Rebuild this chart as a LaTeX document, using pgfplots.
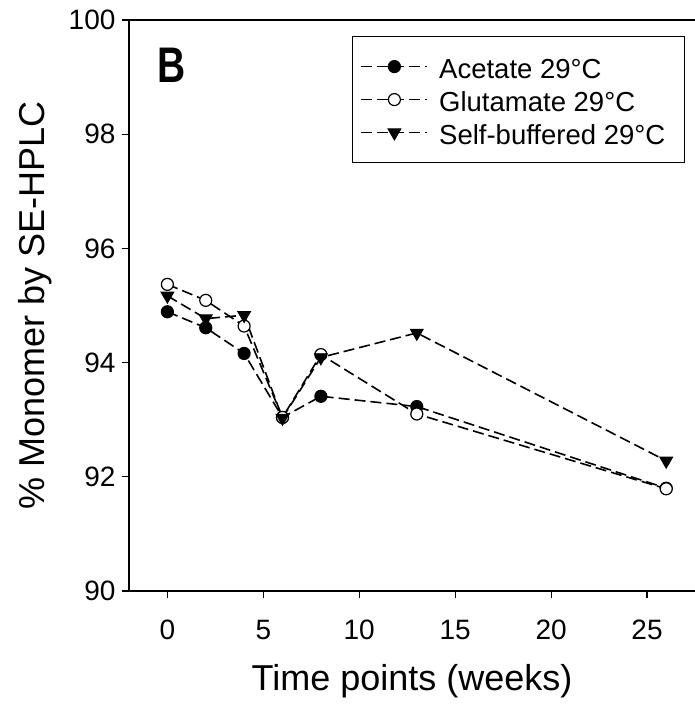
\documentclass[border=0pt]{standalone}
\usepackage{fontspec}
\setmainfont{Liberation Sans}
\usepackage{pgfplots}
\pgfplotsset{compat=1.18}
\begin{document}
\begin{tikzpicture}
\begin{axis}[
  scale only axis,
  width=566pt, height=571pt,
  xmin=-2, xmax=27.5, ymin=90, ymax=100,
  xtick={0,5,10,15,20,25},
  ytick={90,92,94,96,98,100},
  axis y line*=left,
  xtick pos=left,
  tick align=outside,
  major tick length=7pt,
  axis line style={line width=1.4pt},
  tick style={line width=1.2pt, black},
  /pgf/number format/assume math mode=true,
  tick label style={font=\fontsize{28}{32}\selectfont},
  xticklabel style={yshift=-32pt, anchor=center},
  yticklabel style={xshift=-3pt},
  xlabel={Time points (weeks)},
  ylabel={\% Monomer by SE-HPLC},
  xlabel style={font=\fontsize{36}{40}\selectfont, at={(axis description cs:0.5,-0.158)}, anchor=center},
  ylabel style={font=\fontsize{36}{40}\selectfont, at={(axis description cs:-0.166,0.5)}, anchor=center, rotate=0},
  legend cell align=left,
  legend image code/.code={
    \draw[mark repeat=2,mark phase=2,#1] plot coordinates {(0pt,0pt) (33pt,0pt) (66pt,0pt)};
  },
  legend style={draw=black, line width=1.2pt, at={(axis description cs:0.394,0.972)}, anchor=north west,
    font=\fontsize{27.5}{33}\selectfont, inner xsep=8pt, inner ysep=11pt, row sep=-5pt,
    nodes={inner ysep=1pt, inner xsep=11pt, text height=30pt, text depth=6pt}},
  every axis plot/.append style={line width=1.6pt, black, dash pattern=on 11pt off 5pt},
  clip=false,
]
\addplot[mark=*, mark size=6pt, mark options={solid, fill=black, line width=1.2pt}] coordinates {
  (0,94.89) (2,94.61) (4,94.16) (6,93.04) (8,93.41) (13,93.23) (26,91.80)};
\addlegendentry{Acetate 29°C}
\addplot[mark=*, mark size=6pt, mark options={solid, fill=white, line width=1.2pt}] coordinates {
  (0,95.37) (2,95.09) (4,94.64) (6,93.04) (8,94.14) (13,93.10) (26,91.79)};
\addlegendentry{Glutamate 29°C}
\addplot[mark=triangle*, mark size=7.5pt, mark options={solid, fill=black, rotate=180, line width=0.8pt}] coordinates {
  (0,95.17) (2,94.77) (4,94.83) (6,93.03) (8,94.09) (13,94.52) (26,92.28)};
\addlegendentry{Self-buffered 29°C}
\node[font=\bfseries\fontsize{50}{52}\selectfont, xscale=0.78] at (axis description cs:0.076,0.921) {B};
\coordinate (SW) at (rel axis cs:0,0);
\end{axis}
\pgfresetboundingbox
\path[use as bounding box] ([xshift=-129pt,yshift=-113pt]SW) rectangle ++(695pt,704pt);
\end{tikzpicture}
\end{document}
